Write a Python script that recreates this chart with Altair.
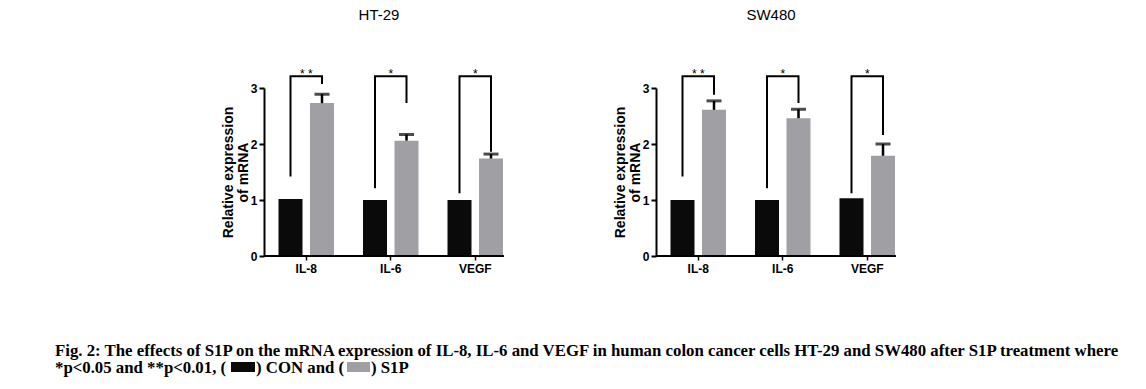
import altair as alt
import pandas as pd

# ---------------- data ----------------
categories = ["IL-8", "IL-6", "VEGF"]
groups = ["CON", "S1P"]
stars = ["* *", "*", "*"]
y_ticks = [0, 1, 2, 3]

ht_con = [1.02, 1.00, 1.00]
ht_s1p = [2.73, 2.06, 1.74]
ht_s1p_err = [0.16, 0.11, 0.08]
ht_left_low = [1.42, 1.21, 1.12]
ht_right_low = [3.07, 2.73, 1.86]

sw_con = [1.00, 1.00, 1.03]
sw_s1p = [2.61, 2.46, 1.79]
sw_s1p_err = [0.16, 0.16, 0.21]
sw_left_low = [1.42, 1.21, 1.12]
sw_right_low = [2.88, 2.73, 2.16]

bracket_top = 3.21
star_level = 3.17

panel_titles = ["HT-29", "SW480"]
y_title = ["Relative expression", "of  mRNA"]
caption_line1 = ("Fig. 2: The effects of S1P on the mRNA expression of IL-8, IL-6 and VEGF in human "
                 "colon cancer cells HT-29 and SW480 after S1P treatment where")
caption_parts = ["*p<0.05 and **p<0.01, (", ") CON and (", ") S1P"]

CON_COLOR = "#0a0a0a"
S1P_COLOR = "#a0a0a4"
SANS = "Liberation Sans"
SERIF = "Liberation Serif"


def panel(title, con, s1p, err, left_low, right_low):
    bars = pd.DataFrame({"cat": categories * 2,
                         "grp": ["CON"] * 3 + ["S1P"] * 3,
                         "val": con + s1p})
    errs = pd.DataFrame({"cat": categories, "grp": ["S1P"] * 3, "val": s1p,
                         "top": [v + e for v, e in zip(s1p, err)]})
    rows = []
    for c, lo, ro in zip(categories, left_low, right_low):
        rows += [(c, "CON", lo, 0), (c, "CON", bracket_top, 1),
                 (c, "S1P", bracket_top, 2), (c, "S1P", ro, 3)]
    br = pd.DataFrame(rows, columns=["cat", "grp", "val", "ord"])
    st = pd.DataFrame({"cat": categories, "txt": stars, "val": [star_level] * 3})
    one = pd.DataFrame({"t": [title]})

    x_axis = alt.Axis(title=None, domain=False, labelAngle=0, labelFont=SANS,
                      labelFontSize=12, labelFontWeight="bold", labelColor="black",
                      tickColor="black", tickSize=4, tickWidth=1.5, labelPadding=3)
    x = alt.X("cat:N", sort=categories,
              scale=alt.Scale(domain=categories, paddingInner=0, paddingOuter=0),
              axis=x_axis)
    xo = alt.XOffset("grp:N", sort=groups,
                     scale=alt.Scale(domain=groups, paddingInner=0.238, paddingOuter=0.46))
    y_axis = alt.Axis(values=y_ticks, format="d", title=y_title, grid=False,
                      domainColor="black", domainWidth=2, tickColor="black",
                      tickWidth=2, tickSize=5, labelFont=SANS, labelFontSize=12,
                      labelFontWeight="bold", labelColor="black", labelPadding=2,
                      titleFont=SANS, titleFontSize=14, titleFontWeight="bold",
                      titleColor="black", titlePadding=0, titleLineHeight=15)
    y = alt.Y("val:Q", scale=alt.Scale(domain=[0, 3], nice=False), axis=y_axis)

    bar_layer = alt.Chart(bars).mark_bar().encode(
        x=x, xOffset=xo, y=y,
        color=alt.Color("grp:N", scale=alt.Scale(domain=groups, range=[CON_COLOR, S1P_COLOR]),
                        legend=None))
    xline = alt.Chart(one).mark_rule(color="black", strokeWidth=2).encode(
        x=alt.value(0), x2=alt.value(240), y=alt.datum(0))
    stem = alt.Chart(errs).mark_rule(color="black", strokeWidth=2.5).encode(
        x=x, xOffset=xo, y="val:Q", y2="top:Q")
    cap = alt.Chart(errs).mark_tick(color="black", thickness=3, size=15,
                                    orient="horizontal").encode(
        x=x, xOffset=xo, y="top:Q")
    brk = alt.Chart(br).mark_line(color="black", strokeWidth=2).encode(
        x=x, xOffset=xo, y="val:Q", detail="cat:N", order="ord:Q")
    star = alt.Chart(st).mark_text(font=SANS, fontSize=12, color="black",
                                   baseline="alphabetic").encode(
        x=x, y="val:Q", text="txt:N")
    ttl = alt.Chart(one).mark_text(font=SANS, fontSize=15, color="black",
                                   baseline="middle").encode(
        x=alt.value(115), y=alt.value(-73), text="t:N")
    return alt.layer(bar_layer, xline, stem, cap, brk, star, ttl).properties(
        width=253.5, height=168)


p1 = panel(panel_titles[0], ht_con, ht_s1p, ht_s1p_err, ht_left_low, ht_right_low)
p2 = panel(panel_titles[1], sw_con, sw_s1p, sw_s1p_err, sw_left_low, sw_right_low)

spacer = alt.Chart(pd.DataFrame({"a": [0]})).mark_point(opacity=0).encode(
    x=alt.value(0), y=alt.value(0)).properties(width=115, height=10)

cap_df = pd.DataFrame({"a": [0]})
cap_base = alt.Chart(cap_df)
cap_style = dict(font=SERIF, fontSize=16.8, fontWeight="bold", color="black",
                 baseline="alphabetic", align="left")
c1 = cap_base.mark_text(**cap_style).encode(x=alt.value(44), y=alt.value(12),
                                            text=alt.value(caption_line1))
c2 = cap_base.mark_text(**cap_style).encode(x=alt.value(44), y=alt.value(28.5),
                                            text=alt.value(caption_parts[0]))
c3 = cap_base.mark_text(**cap_style).encode(x=alt.value(245), y=alt.value(28.5),
                                            text=alt.value(caption_parts[1]))
c4 = cap_base.mark_text(**cap_style).encode(x=alt.value(360), y=alt.value(28.5),
                                            text=alt.value(caption_parts[2]))
b1 = cap_base.mark_rect(color=CON_COLOR).encode(x=alt.value(220), x2=alt.value(244),
                                                y=alt.value(18), y2=alt.value(28))
b2 = cap_base.mark_rect(color=S1P_COLOR).encode(x=alt.value(336), x2=alt.value(359),
                                                y=alt.value(18), y2=alt.value(28))
caption = alt.layer(c1, c2, c3, c4, b1, b2).properties(width=1100, height=30)

chart = alt.vconcat(
    alt.hconcat(spacer, p1, p2, spacing=95),
    caption,
    spacing=69,
).properties(padding=0).configure_view(stroke=None)

chart.save("out.html", embed_options={"renderer": "svg", "actions": False})
